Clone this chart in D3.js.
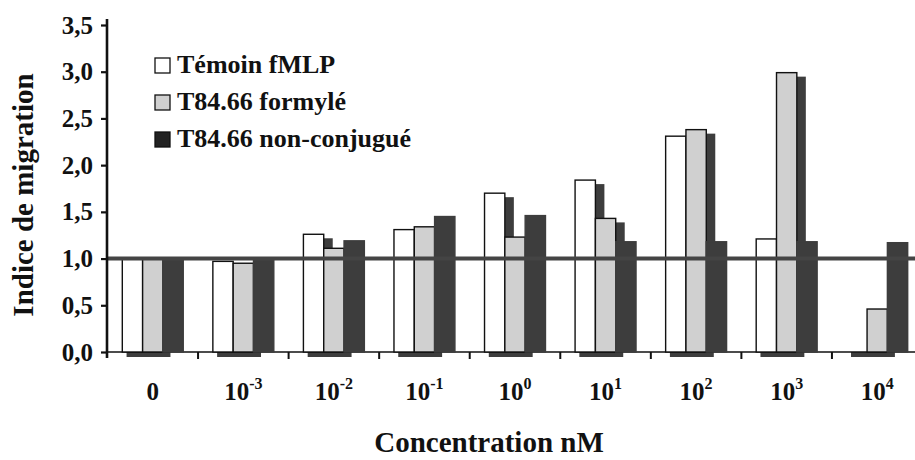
<!DOCTYPE html>
<html>
<head>
<meta charset="utf-8">
<script src="https://cdn.jsdelivr.net/npm/d3@7"></script>
<style>
  html, body { margin: 0; padding: 0; background: #ffffff; }
  svg { display: block; }
  svg text { font-family: "Liberation Serif", "Tinos", "Times New Roman", Times, "DejaVu Serif", serif !important; font-weight: bold; fill: #111111; }
</style>
</head>
<body>
<svg id="chart" width="915" height="460"></svg>
<script>
// Concentrations (nM) and their axis labels
const concentrations = ["0", "0.001", "0.01", "0.1", "1", "10", "100", "1000", "10000"];
const labelBase = ["0", "10", "10", "10", "10", "10", "10", "10", "10"];
const labelExponent = ["", "-3", "-2", "-1", "0", "1", "2", "3", "4"];

// Series
const seriesNames = ["Témoin fMLP", "T84.66 formylé", "T84.66 non-conjugué"];
const temoinFMLP  = [1.00, 0.97, 1.26, 1.31, 1.70, 1.84, 2.31, 1.21, 0];
const formyle     = [1.00, 0.95, 1.11, 1.34, 1.23, 1.43, 2.38, 2.99, 0.46];
const nonConjugue = [1.00, 1.00, 1.19, 1.45, 1.46, 1.18, 1.18, 1.18, 1.17];

// Value axis
const yTickValues = [0, 0.5, 1, 1.5, 2, 2.5, 3, 3.5];
const referenceLevel = 1;

const seriesValues = [temoinFMLP, formyle, nonConjugue];
const fills = ["#ffffff", "#d0d0d0", "#3d3d3d"];
const outlines = ["#111111", "#111111", "#3d3d3d"];
const sideColor = "#3d3d3d";
const legendFills = ["#ffffff", "#d0d0d0", "#222222"];

const svg = d3.select("#chart");

const x = d3.scaleBand()
  .domain(concentrations)
  .range([107, 923])
  .paddingInner(0.327)
  .paddingOuter(0.169);

const y = d3.scaleLinear().domain([0, 3.5]).range([352, 25]);

const inner = d3.scaleBand().domain(seriesNames).range([0, x.bandwidth()]);

const comma = d3.formatLocale({ decimal: ",", thousands: " ", grouping: [3], currency: ["", " €"] }).format(".1f");

// Floor shading under each group
svg.append("g")
  .selectAll("rect")
  .data(concentrations)
  .join("rect")
  .attr("x", d => x(d) + x.bandwidth() * 0.07)
  .attr("y", y(0))
  .attr("width", x.bandwidth() * 0.72)
  .attr("height", 5)
  .attr("fill", sideColor);

// Category axis line and separating ticks
svg.append("line")
  .attr("x1", 107).attr("x2", 915)
  .attr("y1", y(0)).attr("y2", y(0))
  .attr("stroke", "#111").attr("stroke-width", 1.6);

svg.append("g")
  .selectAll("line")
  .data(concentrations.slice(1))
  .join("line")
  .attr("x1", d => x(d) - x.step() * x.paddingInner() / 2)
  .attr("x2", d => x(d) - x.step() * x.paddingInner() / 2)
  .attr("y1", y(0)).attr("y2", y(0) + 7)
  .attr("stroke", "#111").attr("stroke-width", 2);

// Bars with a dark side face for depth
const sideWidth = 9;
const sideDrop = 4;
const groups = svg.append("g")
  .selectAll("g")
  .data(concentrations)
  .join("g")
  .attr("transform", d => `translate(${x(d)},0)`);

groups.each(function (c, i) {
  const g = d3.select(this);
  seriesNames.forEach((name, s) => {
    const v = seriesValues[s][i];
    if (v <= 0) return;
    const x0 = inner(name);
    const w = inner.bandwidth();
    if (s < seriesNames.length - 1) {
      g.append("rect")
        .attr("x", x0 + w)
        .attr("y", y(v) + sideDrop)
        .attr("width", sideWidth)
        .attr("height", y(0) - y(v) - sideDrop)
        .attr("fill", sideColor);
    }
    g.append("rect")
      .attr("x", x0)
      .attr("y", y(v))
      .attr("width", w)
      .attr("height", y(0) - y(v))
      .attr("fill", fills[s])
      .attr("stroke", outlines[s])
      .attr("stroke-width", 1.4);
  });
});

// Reference level line
svg.append("line")
  .attr("x1", 107).attr("x2", 915)
  .attr("y1", y(referenceLevel)).attr("y2", y(referenceLevel))
  .attr("stroke", "#444444").attr("stroke-width", 4);

// Value axis
const yAxis = svg.append("g")
  .attr("transform", "translate(107,0)")
  .call(d3.axisLeft(y).tickValues(yTickValues).tickSize(6).tickSizeOuter(0).tickPadding(8).tickFormat(comma))
  .attr("font-family", null)
  .attr("font-size", null);
yAxis.select(".domain").remove();
yAxis.selectAll(".tick line").attr("stroke", "#111").attr("stroke-width", 2.2);
yAxis.selectAll(".tick text")
  .attr("font-size", 25)
  .attr("fill", "#111");

svg.append("line")
  .attr("x1", 107).attr("x2", 107)
  .attr("y1", 19).attr("y2", y(0) + 6)
  .attr("stroke", "#111").attr("stroke-width", 2.6);

// Category labels with exponents
const labels = svg.append("g")
  .selectAll("text")
  .data(concentrations)
  .join("text")
  .attr("x", d => x(d) + x.bandwidth() / 2)
  .attr("y", 400)
  .attr("text-anchor", "middle")
  .attr("font-size", 25);

labels.append("tspan").text((d, i) => labelBase[i]);
labels.append("tspan")
  .attr("font-size", 16)
  .attr("dy", -11)
  .text((d, i) => labelExponent[i]);

// Axis titles
svg.append("text")
  .attr("transform", "translate(33,195) rotate(-90)")
  .attr("text-anchor", "middle")
  .attr("font-size", 29)
  .text("Indice de migration");

svg.append("text")
  .attr("x", 489)
  .attr("y", 452)
  .attr("text-anchor", "middle")
  .attr("font-size", 29)
  .text("Concentration nM");

// Legend
const legend = svg.append("g")
  .selectAll("g")
  .data(seriesNames)
  .join("g")
  .attr("transform", (d, i) => `translate(155,${58 + i * 37})`);

legend.append("rect")
  .attr("width", 15).attr("height", 15)
  .attr("fill", (d, i) => legendFills[i])
  .attr("stroke", "#111").attr("stroke-width", 1.3);

legend.append("text")
  .attr("x", 22)
  .attr("y", 15)
  .attr("font-size", 26)
  .text(d => d);
</script>
</body>
</html>
